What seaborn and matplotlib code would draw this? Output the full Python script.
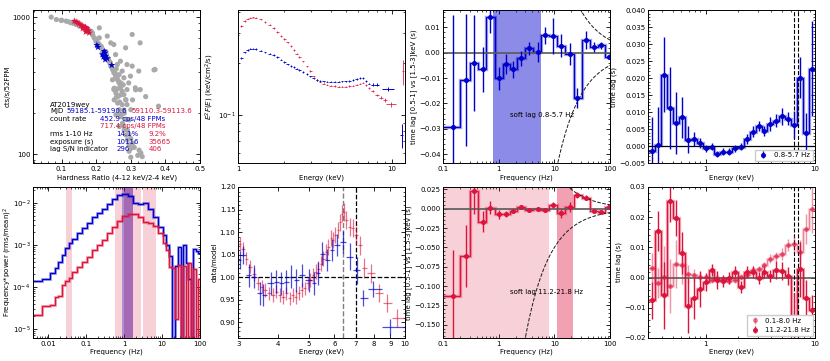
import numpy as np
import matplotlib
matplotlib.use('Agg')
import matplotlib.pyplot as plt
import seaborn as sns
from matplotlib.ticker import FuncFormatter, NullFormatter, FixedLocator, NullLocator, MultipleLocator, AutoMinorLocator

# ---------------- data ----------------
# Panel 1: hardness-intensity
gray_hr = [0.070, 0.085, 0.099, 0.113, 0.127, 0.142, 0.151, 0.161, 0.175, 0.180, 0.189, 0.194, 0.199,
           0.209, 0.209, 0.213, 0.218, 0.223, 0.232, 0.237, 0.242, 0.247, 0.251, 0.256, 0.261, 0.266,
           0.270, 0.275, 0.280, 0.285, 0.289, 0.209, 0.232, 0.242, 0.251, 0.285, 0.304, 0.327, 0.256,
           0.270, 0.289, 0.304, 0.323, 0.370, 0.251, 0.294, 0.313, 0.327, 0.380, 0.261, 0.275, 0.280,
           0.299, 0.289, 0.266, 0.247, 0.252, 0.257, 0.252, 0.262, 0.267, 0.257, 0.271, 0.276, 0.267,
           0.281, 0.286, 0.290, 0.295, 0.300, 0.324, 0.329, 0.333, 0.286, 0.300, 0.305, 0.314, 0.343,
           0.367, 0.295, 0.281, 0.262, 0.240, 0.228, 0.258, 0.272, 0.268, 0.278,
           0.100, 0.120, 0.135, 0.155, 0.165, 0.185, 0.190, 0.200, 0.205, 0.215, 0.225, 0.230, 0.235,
           0.240, 0.245, 0.250, 0.255, 0.260, 0.265, 0.270, 0.262, 0.258, 0.270, 0.275, 0.280, 0.270,
           0.285, 0.280, 0.290, 0.295, 0.300, 0.305, 0.310, 0.295, 0.320, 0.300]
gray_cts = [1000, 960, 945, 935, 909, 883, 860, 860, 826, 785, 768, 706, 668,
            631, 706, 597, 549, 519, 505, 477, 439, 415, 392, 371, 351, 331,
            305, 288, 272, 250, 230, 835, 727, 649, 631, 597, 747, 649, 533,
            477, 451, 439, 404, 415, 296, 331, 305, 296, 224, 451, 404, 361,
            371, 296, 380, 349, 303, 279, 249, 236, 211, 194, 188, 168, 159,
            150, 138, 127, 117, 110, 107, 102, 96, 249, 211, 249, 295, 263,
            412, 178, 199, 262, 470, 560, 420, 330, 240, 320,
            950, 925, 900, 870, 845, 790, 740, 690, 650, 610, 560, 530, 500,
            460, 430, 410, 390, 360, 340, 320, 300, 260, 270, 230, 210, 195,
            180, 160, 150, 140, 130, 120, 112, 105, 98, 95]
red_hr = [0.137, 0.147, 0.151, 0.161, 0.166, 0.170, 0.175, 0.180, 0.156, 0.169, 0.173, 0.178, 0.142, 0.161, 0.170]
red_cts = [935, 909, 894, 860, 835, 812, 790, 768, 874, 845, 826, 798, 924, 826, 781]
blue_hr = [0.202, 0.205, 0.223, 0.226, 0.218, 0.221, 0.227, 0.232, 0.226, 0.245]
blue_cts = [625, 604, 565, 549, 533, 513, 519, 499, 490, 446]

# Panel 2: unfolded spectra
spec_E = [1.0, 1.05, 1.1, 1.15, 1.2, 1.25, 1.3, 1.4, 1.5, 1.6, 1.7, 1.8, 1.9, 2.0, 2.1, 2.2, 2.3, 2.4,
          2.5, 2.65, 2.8, 2.95, 3.1, 3.25, 3.4, 3.6, 3.8, 4.0, 4.25, 4.5, 4.75, 5.0, 5.3, 5.6, 5.9,
          6.2, 6.5, 6.8, 7.1]
spec_red = [0.295, 0.330, 0.355, 0.366, 0.371, 0.372, 0.370, 0.362, 0.350, 0.337, 0.322, 0.305, 0.290,
            0.277, 0.265, 0.252, 0.240, 0.228, 0.218, 0.205, 0.192, 0.180, 0.168, 0.160, 0.156, 0.152,
            0.150, 0.148, 0.147, 0.146, 0.146, 0.146, 0.147, 0.148, 0.150, 0.152, 0.154, 0.149, 0.143]
spec_blue = [0.200, 0.215, 0.232, 0.240, 0.244, 0.244, 0.242, 0.237, 0.232, 0.228, 0.224, 0.218, 0.210,
             0.203, 0.197, 0.193, 0.190, 0.186, 0.183, 0.178, 0.173, 0.168, 0.163, 0.160, 0.158, 0.157,
             0.156, 0.156, 0.156, 0.156, 0.157, 0.157, 0.158, 0.160, 0.162, 0.164, 0.164, 0.158, 0.152]
red_hiE = [7.5, 8.0, 8.5, 9.0, 9.95, 11.85]
red_hiF = [0.137, 0.131, 0.126, 0.122, 0.115, 0.180]
red_hiXerr = [0.2, 0.25, 0.25, 0.25, 0.75, 0.25]
red_hiYerr = [0.002, 0.002, 0.003, 0.003, 0.004, 0.03]
blue_hiE = [7.5, 8.0, 9.5, 11.6]
blue_hiF = [0.150, 0.150, 0.141, 0.076]
blue_hiXerr = [0.2, 0.3, 0.8, 0.3]
blue_hiYerr = [0.003, 0.003, 0.004, 0.012]

# Panel 3: lag-frequency (blue)
lagf_freq = [0.152, 0.254, 0.361, 0.51, 0.70, 1.0, 1.36, 1.8, 2.54, 3.5, 4.97, 6.85, 9.6, 13.2, 18.8,
             25.8, 36.5, 51.5, 70.0, 97.0]
lagf_blue = [-0.0292, -0.0108, -0.0042, -0.0066, 0.0139, -0.0101, -0.0046, -0.0066, -0.0022, 0.0017,
             0.0004, 0.0068, 0.0066, 0.0028, -0.0005, -0.0178, 0.0049, 0.0021, 0.0029, -0.0016]
lagf_blue_err = [0.044, 0.026, 0.019, 0.009, 0.006, 0.0045, 0.004, 0.0035, 0.003, 0.0025, 0.004,
                 0.0035, 0.007, 0.0045, 0.0045, 0.004, 0.0035, 0.002, 0.0015, 0.001]
# Panel 7: lag-frequency (red)
lagf_red = [-0.1128, -0.0613, 0.0227, -0.0167, 0.0013, -0.0073, -0.0073, -0.0030, 0.0021, -0.0013,
            -0.0009, -0.0021, 0.0043, -0.0060, 0.0021, 0.0176, 0.0142, -0.0030, -0.0039, 0.0021]
lagf_red_err = [0.06, 0.04, 0.03, 0.014, 0.008, 0.006, 0.004, 0.003, 0.002, 0.002, 0.002, 0.002,
                0.004, 0.006, 0.006, 0.004, 0.003, 0.002, 0.002, 0.001]

# Panel 4 / 8: lag-energy
lage_E = [0.326, 0.371, 0.421, 0.476, 0.54, 0.609, 0.692, 0.78, 0.886, 1.0, 1.136, 1.28, 1.446, 1.64,
          1.865, 2.1, 2.39, 2.7, 3.06, 3.45, 3.9, 4.43, 5.03, 5.67, 6.43, 7.26, 8.25, 9.3]
lage_blue = [-0.0013, 0.0004, 0.0210, 0.0112, 0.0068, 0.0085, 0.0019, 0.0021, 0.0009, -0.0006, -0.0001,
             -0.0023, -0.0016, -0.0016, -0.0006, -0.0001, 0.0021, 0.0043, 0.0060, 0.0045, 0.0066,
             0.0075, 0.0088, 0.0081, 0.0063, 0.0201, 0.0038, 0.0228]
lage_blue_err = [0.010, 0.011, 0.011, 0.012, 0.009, 0.006, 0.004, 0.002, 0.0015, 0.001, 0.001, 0.001,
                 0.001, 0.001, 0.001, 0.001, 0.0015, 0.0015, 0.0015, 0.0015, 0.002, 0.002, 0.0025,
                 0.002, 0.004, 0.006, 0.006, 0.014]
lage_red_hi = [-0.0076, 0.0154, -0.0059, 0.0254, 0.0197, 0.0081, -0.0093, -0.0068, -0.0039, -0.0014,
               0.0025, -0.0008, -0.0011, 0.0000, 0.0019, -0.0032, 0.0017, 0.0017, 0.0000, 0.0017,
               0.0006, 0.0025, 0.0021, 0.0006, -0.0150, 0.0027, -0.0068, -0.0107]
lage_red_hi_err = [0.006, 0.0065, 0.011, 0.007, 0.006, 0.007, 0.009, 0.007, 0.006, 0.003, 0.002, 0.003,
                   0.002, 0.002, 0.002, 0.002, 0.002, 0.002, 0.002, 0.002, 0.002, 0.003, 0.003, 0.003,
                   0.010, 0.009, 0.006, 0.005]
lage_red_lo = [0.0030, -0.0019, 0.0003, -0.0028, 0.0046, 0.0040, 0.0011, 0.0009, 0.0001, 0.0003,
               -0.0008, 0.0000, -0.0004, -0.0011, -0.0008, 0.0003, 0.0009, 0.0025, 0.0027, 0.0041,
               0.0063, 0.0070, 0.0077, 0.0107, 0.0112, 0.0085, 0.0161, 0.0227]
lage_red_lo_err = [0.005, 0.005, 0.010, 0.009, 0.008, 0.006, 0.003, 0.002, 0.0015, 0.001, 0.001, 0.001,
                   0.001, 0.001, 0.001, 0.001, 0.001, 0.001, 0.001, 0.001, 0.0015, 0.0015, 0.002,
                   0.002, 0.003, 0.004, 0.005, 0.008]

# Panel 5: power spectra
pds_freq = [0.0054, 0.0090, 0.0129, 0.0167, 0.0205, 0.0251, 0.0308, 0.0378, 0.0489, 0.0664, 0.0903,
            0.123, 0.167, 0.227, 0.308, 0.419, 0.570, 0.775, 1.05, 1.43, 1.94, 2.64, 3.59, 4.89, 6.64,
            9.03, 11.7, 14.3, 17.0, 19.9, 23.9, 28.7, 33.5, 38.6, 45.0, 53.0, 61.8, 72.1, 84.0, 98.0]
pds_blue = [1.36e-4, 1.5e-4, 2.1e-4, 2.8e-4, 4.0e-4, 5.8e-4, 8.3e-4, 1.1e-3, 1.4e-3, 1.9e-3, 2.5e-3,
            3.3e-3, 4.5e-3, 5.6e-3, 7.3e-3, 9.6e-3, 1.27e-2, 1.5e-2, 1.6e-2, 1.44e-2, 1.0e-2, 9.3e-3,
            1.0e-2, 7.3e-3, 4.7e-3, 2.7e-3, 1.7e-3, 1.0e-3, 5.3e-4, 1e-7, 3.1e-4, 9.1e-4, 1e-7, 1.0e-3,
            3.7e-4, 1.5e-4, 1e-7, 8e-4, 7e-4, 6.5e-4]
pds_red = [2.1e-5, 3.6e-5, 3.8e-5, 5.8e-5, 6.0e-5, 1.1e-4, 1.36e-4, 1.6e-4, 2.3e-4, 3.0e-4, 4.0e-4,
           5.1e-4, 7.6e-4, 1.0e-3, 1.3e-3, 1.9e-3, 2.6e-3, 3.8e-3, 4.8e-3, 5.4e-3, 5.4e-3, 4.5e-3,
           3.6e-3, 3.3e-3, 2.8e-3, 1.9e-3, 1.1e-3, 7.6e-4, 3.0e-4, 2.8e-4, 1.7e-5, 3.4e-4, 1e-7, 3.1e-4,
           1e-7, 3.7e-4, 1e-7, 2.6e-4, 1e-7, 1.5e-4]
pink_bands = [(0.030, 0.042), (0.565, 2.79), (3.15, 7.0)]
dark_band = (0.98, 1.71)
blue_band_pds = (0.87, 1.71)

# Panel 6: ratio
ratio_red_E = [3.03, 3.1, 3.18, 3.26, 3.35, 3.45, 3.55, 3.65, 3.75, 3.85, 3.95, 4.05, 4.15, 4.25, 4.35,
               4.45, 4.55, 4.65, 4.75, 4.85, 4.95, 5.05, 5.15, 5.25, 5.35, 5.45, 5.55, 5.65, 5.75, 5.85,
               5.95, 6.05, 6.15, 6.25, 6.35, 6.45, 6.55, 6.7, 6.85, 7.0, 7.2, 7.45, 7.8, 8.3, 8.8, 9.45]
ratio_red = [1.074, 1.062, 1.041, 1.023, 1.006, 0.986, 0.979, 0.971, 0.964, 0.960, 0.968, 0.960, 0.956,
             0.964, 0.953, 0.960, 0.956, 0.965, 0.971, 0.975, 0.986, 0.993, 1.004, 1.012, 1.019, 1.030,
             1.041, 1.056, 1.067, 1.086, 1.082, 1.093, 1.104, 1.122, 1.141, 1.145, 1.126, 1.111, 1.109,
             1.093, 1.071, 1.020, 1.008, 0.964, 0.942, 0.909]
ratio_red_err = [0.015, 0.015, 0.015, 0.015, 0.015, 0.015, 0.015, 0.015, 0.015, 0.015, 0.015, 0.015,
                 0.015, 0.015, 0.015, 0.015, 0.015, 0.015, 0.015, 0.015, 0.015, 0.015, 0.016, 0.016,
                 0.016, 0.016, 0.017, 0.017, 0.017, 0.018, 0.018, 0.018, 0.018, 0.019, 0.019, 0.02,
                 0.02, 0.02, 0.02, 0.021, 0.021, 0.022, 0.022, 0.02, 0.02, 0.02]
ratio_blue_E = [3.03, 3.1, 3.25, 3.35, 3.5, 3.6, 3.8, 3.95, 4.1, 4.25, 4.4, 4.55, 4.75, 5.0, 5.2, 5.35,
                5.5, 5.7, 5.9, 6.1, 6.4, 6.7, 7.05, 7.4, 7.95, 9.0]
ratio_blue = [1.038, 1.049, 1.004, 1.001, 0.964, 0.960, 0.986, 0.990, 0.986, 0.990, 1.001, 0.993, 1.004,
              0.993, 0.986, 1.008, 1.052, 1.038, 1.060, 1.071, 1.078, 1.045, 1.015, 0.953, 0.973, 0.890]
ratio_blue_err = [0.02, 0.02, 0.025, 0.025, 0.025, 0.025, 0.025, 0.025, 0.025, 0.025, 0.025, 0.025,
                  0.025, 0.025, 0.025, 0.025, 0.025, 0.025, 0.025, 0.025, 0.025, 0.03, 0.03, 0.018,
                  0.018, 0.018]

# ---------------- style ----------------
FS = 5.0
sns.set_theme(style='ticks')
plt.rcParams.update({
    'font.family': ['DejaVu Sans'],
    'font.size': FS, 'axes.labelsize': FS,
    'xtick.labelsize': FS, 'ytick.labelsize': FS, 'legend.fontsize': FS,
    'xtick.direction': 'in', 'ytick.direction': 'in',
    'xtick.top': True, 'ytick.right': True,
    'xtick.major.size': 3, 'ytick.major.size': 3,
    'xtick.minor.size': 1.5, 'ytick.minor.size': 1.5,
    'xtick.major.width': 0.6, 'ytick.major.width': 0.6,
    'xtick.minor.width': 0.5, 'ytick.minor.width': 0.5,
    'xtick.color': 'black', 'ytick.color': 'black',
    'xtick.minor.visible': True, 'ytick.minor.visible': True,
    'axes.linewidth': 0.7, 'axes.edgecolor': 'black', 'axes.labelcolor': 'black',
    'axes.labelpad': 1.5, 'xtick.major.pad': 2, 'ytick.major.pad': 2,
    'text.color': 'black',
})
RED = '#dc143c'
BLUE = '#0000cd'
plain = FuncFormatter(lambda v, _: '%g' % v)

fig = plt.figure(figsize=(8.3, 3.61), dpi=100)
L = [0.040, 0.287, 0.534, 0.781]
W = 0.201
top = [fig.add_axes([l, 0.548, W, 0.424]) for l in L]
bot = [fig.add_axes([l, 0.064, W, 0.418]) for l in L]


def geo_edges(c, lo, hi):
    c = np.asarray(c, float)
    return np.concatenate([[lo], np.sqrt(c[:-1] * c[1:]), [hi]])


def lag_panel(ax, x, y, err, color, lo, hi, label=None, alpha=1.0):
    e = geo_edges(x, lo, hi)
    ax.stairs(y, e, color=color, lw=2.4, alpha=0.35 * alpha, baseline=None)
    ax.stairs(y, e, color=color, lw=0.9, alpha=alpha, baseline=None)
    ax.errorbar(x, y, yerr=err, fmt='o', ms=2.6, color=color, elinewidth=1.0, alpha=alpha,
                capsize=0, label=label)

# ---- panel 1 ----
ax = top[0]
sns.scatterplot(x=gray_hr, y=gray_cts, color='darkgray', s=14, edgecolor='none', ax=ax, zorder=2)
sns.scatterplot(x=red_hr, y=red_cts, color=RED, s=30, marker='*', edgecolor='none', ax=ax, zorder=3)
sns.scatterplot(x=blue_hr, y=blue_cts, color=BLUE, s=30, marker='*', edgecolor='none', ax=ax, zorder=3)
ax.set_yscale('log')
ax.set_xlim(0.018, 0.5)
ax.set_ylim(86, 1125)
ax.xaxis.set_major_locator(MultipleLocator(0.1))
ax.xaxis.set_minor_locator(AutoMinorLocator(5))
ax.yaxis.set_major_formatter(plain)
ax.yaxis.set_minor_formatter(NullFormatter())
ax.set_xlabel('Hardness Ratio (4-12 keV/2-4 keV)')
ax.set_ylabel('cts/s/52FPM')
tx = ax.transAxes
rows = [0.37, 0.325, 0.275, 0.23, 0.18, 0.128, 0.08]
ax.text(0.10, rows[0], 'AT2019wey', transform=tx)
ax.text(0.10, rows[1], 'MJD', transform=tx)
ax.text(0.20, rows[1], '59185.1-59190.6', color=BLUE, transform=tx)
ax.text(0.59, rows[1], '59110.3-59113.6', color=RED, transform=tx)
ax.text(0.10, rows[2], 'count rate', transform=tx)
ax.text(0.40, rows[2], '452.9 cps/48 FPMs', color=BLUE, transform=tx)
ax.text(0.40, rows[3], '717.4 cps/48 FPMs', color=RED, transform=tx)
ax.text(0.10, rows[4], 'rms 1-10 Hz', transform=tx)
ax.text(0.50, rows[4], '14.1%', color=BLUE, transform=tx)
ax.text(0.69, rows[4], '9.2%', color=RED, transform=tx)
ax.text(0.10, rows[5], 'exposure (s)', transform=tx)
ax.text(0.50, rows[5], '10116', color=BLUE, transform=tx)
ax.text(0.69, rows[5], '35665', color=RED, transform=tx)
ax.text(0.10, rows[6], 'lag S/N indicator', transform=tx)
ax.text(0.50, rows[6], '296', color=BLUE, transform=tx)
ax.text(0.69, rows[6], '406', color=RED, transform=tx)

# ---- panel 2 ----
ax = top[1]
E = np.asarray(spec_E)
ax.errorbar(E, spec_red, xerr=E * 0.018, yerr=np.asarray(spec_red) * 0.01, fmt='none',
            ecolor=RED, elinewidth=0.7, alpha=0.8)
ax.errorbar(E, spec_blue, xerr=E * 0.018, yerr=np.asarray(spec_blue) * 0.01, fmt='none',
            ecolor=BLUE, elinewidth=0.7, alpha=0.9)
ax.errorbar(red_hiE, red_hiF, xerr=red_hiXerr, yerr=red_hiYerr, fmt='none', ecolor=RED,
            elinewidth=0.7, alpha=0.8)
ax.errorbar(blue_hiE, blue_hiF, xerr=blue_hiXerr, yerr=blue_hiYerr, fmt='none', ecolor=BLUE,
            elinewidth=0.7)
ax.set_xscale('log'); ax.set_yscale('log')
ax.set_xlim(1, 12.2); ax.set_ylim(0.052, 0.41)
ax.xaxis.set_major_formatter(plain)
ax.xaxis.set_minor_formatter(NullFormatter())
ax.yaxis.set_minor_formatter(NullFormatter())
ax.set_xlabel('Energy (keV)')
ax.set_ylabel('$E^2F(E)$ (keV/cm$^2$/s)')

# ---- panel 3 ----
ax = top[2]
fgrid = np.logspace(-1, 2, 300)
ax.axvspan(0.8, 5.7, color=BLUE, alpha=0.45, lw=0)
ax.axhline(0, color='0.35', lw=1.2)
ax.plot(fgrid, 0.5 / fgrid, 'k--', lw=0.7)
ax.plot(fgrid, -0.5 / fgrid, 'k--', lw=0.7)
lag_panel(ax, lagf_freq, lagf_blue, lagf_blue_err, BLUE, 0.1, 100)
ax.set_xscale('log')
ax.set_xlim(0.1, 100); ax.set_ylim(-0.0436, 0.0168)
ax.xaxis.set_major_formatter(plain)
ax.xaxis.set_minor_formatter(NullFormatter())
ax.yaxis.set_major_locator(MultipleLocator(0.01))
ax.yaxis.set_minor_locator(AutoMinorLocator(5))
ax.text(0.40, 0.30, 'soft lag 0.8-5.7 Hz', transform=ax.transAxes)
ax.set_xlabel('Frequency (Hz)')
ax.set_ylabel('time lag [0.5-1] vs [1.5-3]keV (s)')

# ---- panel 4 ----
ax = top[3]
ax.axhline(0, color='black', lw=0.9)
ax.axvline(6.4, color='black', ls='--', lw=0.8)
ax.axvline(7.0, color='black', ls='--', lw=0.8)
lag_panel(ax, lage_E, lage_blue, lage_blue_err, BLUE, 0.3, 10, label='0.8-5.7 Hz')
ax.set_xscale('log')
ax.set_xlim(0.3, 10); ax.set_ylim(-0.005, 0.040)
ax.xaxis.set_major_formatter(plain)
ax.xaxis.set_minor_formatter(NullFormatter())
ax.yaxis.set_major_locator(MultipleLocator(0.005))
ax.yaxis.set_minor_locator(AutoMinorLocator(5))
ax.legend(loc='lower right', frameon=True, facecolor='white', edgecolor='0.8', framealpha=1,
          borderaxespad=0.3, handlelength=1.5, fancybox=False)
ax.set_xlabel('Energy (keV)')
ax.set_ylabel('time lag (s)')

# ---- panel 5 ----
ax = bot[0]
for a, b in pink_bands:
    ax.axvspan(a, b, color=RED, alpha=0.2, lw=0)
ax.axvspan(*dark_band, color=RED, alpha=0.3, lw=0)
ax.axvspan(*blue_band_pds, color=BLUE, alpha=0.3, lw=0)
pe = geo_edges(pds_freq, 0.004, 100)
ax.stairs(pds_blue, pe, color=BLUE, lw=2.2, alpha=0.3, baseline=None)
ax.stairs(pds_blue, pe, color=BLUE, lw=1.0, baseline=None)
ax.stairs(pds_red, pe, color=RED, lw=2.2, alpha=0.3, baseline=None)
ax.stairs(pds_red, pe, color=RED, lw=1.0, baseline=None)
ax.set_xscale('log'); ax.set_yscale('log')
ax.set_xlim(0.004, 100); ax.set_ylim(6.1e-6, 0.0239)
ax.xaxis.set_major_formatter(plain)
ax.xaxis.set_minor_formatter(NullFormatter())
ax.yaxis.set_minor_formatter(NullFormatter())
ax.set_xlabel('Frequency (Hz)')
ax.set_ylabel('Frequency*power (rms/mean)$^2$')
ax.yaxis.set_label_coords(-0.118, 0.5)

# ---- panel 6 ----
ax = bot[1]


def lin_xerr(x, lo, hi):
    x = np.asarray(x, float)
    e = np.concatenate([[lo], 0.5 * (x[:-1] + x[1:]), [hi]])
    return np.vstack([x - e[:-1], e[1:] - x])

ax.axhline(1.0, color='black', ls='--', lw=0.9)
ax.axvline(6.4, color='gray', ls='--', lw=1.0)
ax.axvline(7.0, color='black', ls='--', lw=0.9)
ax.errorbar(ratio_red_E, ratio_red, xerr=lin_xerr(ratio_red_E, 2.98, 9.9), yerr=ratio_red_err,
            fmt='none', ecolor=RED, elinewidth=0.9, alpha=0.6)
ax.errorbar(ratio_blue_E, ratio_blue, xerr=lin_xerr(ratio_blue_E, 2.98, 10.0), yerr=ratio_blue_err,
            fmt='none', ecolor=BLUE, elinewidth=0.9, alpha=0.7)
ax.set_xscale('log')
ax.set_xlim(3, 10); ax.set_ylim(0.865, 1.20)
ax.xaxis.set_major_locator(FixedLocator([3, 4, 5, 6, 7, 8, 9, 10]))
ax.xaxis.set_minor_locator(NullLocator())
ax.xaxis.set_major_formatter(plain)
ax.yaxis.set_major_locator(MultipleLocator(0.05))
ax.yaxis.set_minor_locator(AutoMinorLocator(5))
ax.set_xlabel('Energy (keV)')
ax.set_ylabel('data/model')

# ---- panel 7 ----
ax = bot[2]
ax.axvspan(0.1, 8.0, color=RED, alpha=0.2, lw=0)
ax.axvspan(11.2, 21.8, color=RED, alpha=0.4, lw=0)
ax.axhline(0, color='0.35', lw=1.2)
ax.plot(fgrid, 0.5 / fgrid, 'k--', lw=0.7)
ax.plot(fgrid, -0.5 / fgrid, 'k--', lw=0.7)
lag_panel(ax, lagf_freq, lagf_red, lagf_red_err, RED, 0.1, 100)
ax.set_xscale('log')
ax.set_xlim(0.1, 100); ax.set_ylim(-0.167, 0.028)
ax.xaxis.set_major_formatter(plain)
ax.xaxis.set_minor_formatter(NullFormatter())
ax.yaxis.set_major_locator(MultipleLocator(0.025))
ax.yaxis.set_minor_locator(AutoMinorLocator(5))
ax.text(0.40, 0.29, 'soft lag 11.2-21.8 Hz', transform=ax.transAxes)
ax.set_xlabel('Frequency (Hz)')
ax.set_ylabel('time lag [0.5-1] vs [1.5-3]keV (s)')

# ---- panel 8 ----
ax = bot[3]
ax.axhline(0, color='0.3', lw=1.1)
ax.axvline(6.4, color='black', ls='--', lw=0.8)
ax.axvline(7.0, color='black', ls='--', lw=0.8)
lag_panel(ax, lage_E, lage_red_lo, lage_red_lo_err, RED, 0.3, 10, label='0.1-8.0 Hz', alpha=0.45)
lag_panel(ax, lage_E, lage_red_hi, lage_red_hi_err, RED, 0.3, 10, label='11.2-21.8 Hz')
ax.set_xscale('log')
ax.set_xlim(0.3, 10); ax.set_ylim(-0.02, 0.03)
ax.xaxis.set_major_formatter(plain)
ax.xaxis.set_minor_formatter(NullFormatter())
ax.yaxis.set_major_locator(MultipleLocator(0.01))
ax.yaxis.set_minor_locator(AutoMinorLocator(5))
ax.legend(loc='lower right', frameon=True, facecolor='white', edgecolor='0.8', framealpha=1,
          borderaxespad=0.3, handlelength=1.5, fancybox=False)
ax.set_xlabel('Energy (keV)')
ax.set_ylabel('time lag (s)')

fig.savefig('out.png', dpi=100)
